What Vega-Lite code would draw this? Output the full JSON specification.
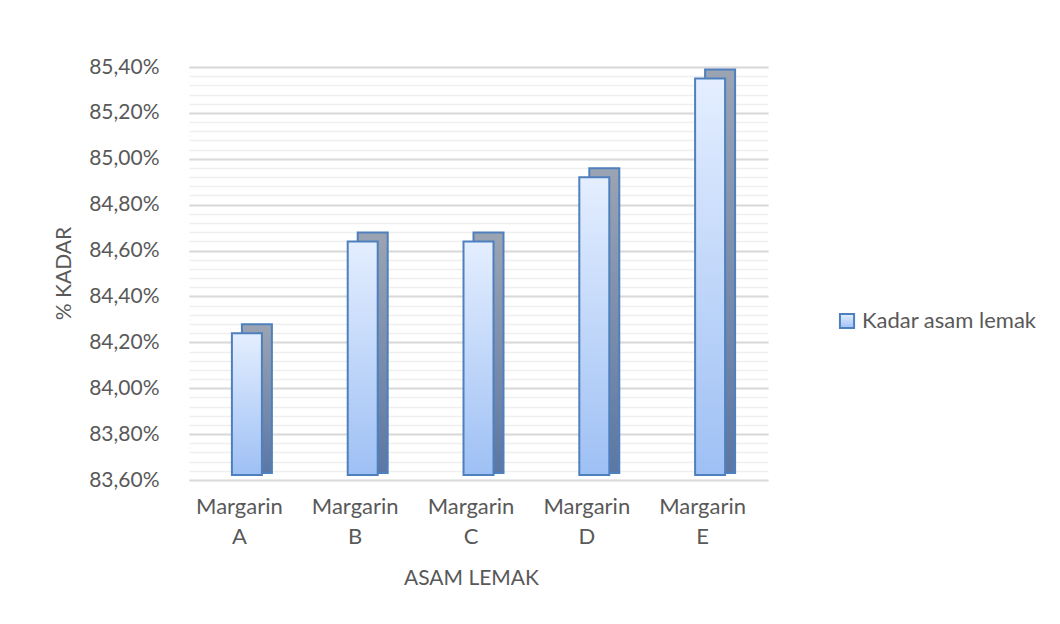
{
  "$schema": "https://vega.github.io/schema/vega-lite/v6.json",
  "autosize": {"type": "none"},
  "width": 579,
  "height": 413,
  "padding": {"left": 189, "top": 67, "right": 292, "bottom": 144},
  "background": "#ffffff",
  "config": {
    "font": "Lato",
    "view": {"stroke": null},
    "axis": {"labelFont": "Lato", "titleFont": "Lato", "labelColor": "#595959", "titleColor": "#595959", "labelFontSize": 21, "titleFontSize": 21, "titleFontWeight": "normal"}
  },
  "data": {
    "values": [
      {"margarin": "Margarin A", "kadar": 84.24, "seri": "Kadar asam lemak"},
      {"margarin": "Margarin B", "kadar": 84.64, "seri": "Kadar asam lemak"},
      {"margarin": "Margarin C", "kadar": 84.64, "seri": "Kadar asam lemak"},
      {"margarin": "Margarin D", "kadar": 84.92, "seri": "Kadar asam lemak"},
      {"margarin": "Margarin E", "kadar": 85.35, "seri": "Kadar asam lemak"}
    ]
  },
  "encoding": {
    "x": {
      "field": "margarin", "type": "nominal", "sort": null,
      "scale": {"paddingInner": 0.741, "paddingOuter": 0.3705},
      "axis": {
        "title": "ASAM LEMAK", "labelAngle": 0, "labelExpr": "split(datum.label, ' ')",
        "labelFontSize": 22,
        "labelLineHeight": 30, "labelPadding": 16, "labelOffset": -7.5, "labelBaseline": "top",
        "domain": false, "ticks": false, "grid": false,
        "titleX": 282, "titleY": 98, "titleBaseline": "middle", "titleAnchor": null
      }
    }
  },
  "layer": [
    {
      "mark": {
        "type": "bar", "xOffset": 10, "yOffset": -9, "y2Offset": -7,
        "stroke": "#4e80bd", "strokeWidth": 2,
        "fill": {"gradient": "linear", "x1": 0, "y1": 0, "x2": 0, "y2": 1, "stops": [{"offset": 0, "color": "#9ba4b3"}, {"offset": 1, "color": "#5c77a4"}]}
      },
      "encoding": {
        "y": {
          "field": "kadar", "type": "quantitative",
          "scale": {"domain": [83.6, 85.4], "zero": false, "nice": false},
          "axis": {
            "orient": "right", "title": null, "labels": false, "ticks": false, "domain": false,
            "grid": true, "gridColor": "#efefef", "gridWidth": 1.5,
            "values": [83.6, 83.64, 83.68, 83.72, 83.76, 83.8, 83.84, 83.88, 83.92, 83.96, 84.0, 84.04, 84.08, 84.12, 84.16, 84.2, 84.24, 84.28, 84.32, 84.36, 84.4, 84.44, 84.48, 84.52, 84.56, 84.6, 84.64, 84.68, 84.72, 84.76, 84.8, 84.84, 84.88, 84.92, 84.96, 85.0, 85.04, 85.08, 85.12, 85.16, 85.2, 85.24, 85.28, 85.32, 85.36, 85.4]
          }
        },
        "y2": {"datum": 83.6}
      }
    },
    {
      "mark": {
        "type": "bar", "strokeWidth": 2, "y2Offset": -5,
        "fill": {"gradient": "linear", "x1": 0, "y1": 0, "x2": 0, "y2": 1, "stops": [{"offset": 0, "color": "#e4eeff"}, {"offset": 1, "color": "#9ec0f4"}]}
      },
      "encoding": {
        "y": {
          "field": "kadar", "type": "quantitative",
          "scale": {"domain": [83.6, 85.4], "zero": false, "nice": false},
          "axis": {
            "orient": "left", "title": "% KADAR",
            "values": [83.6, 83.8, 84.0, 84.2, 84.4, 84.6, 84.8, 85.0, 85.2, 85.4],
            "labelExpr": "replace(format(datum.value, '.2f'), '.', ',') + '%'",
            "labelPadding": 30, "ticks": false, "domain": false,
            "grid": true, "gridColor": "#d9d9d9", "gridWidth": 2,
            "titleX": -124.5, "titleY": 206, "titleAngle": 270, "titleAlign": "center", "titleBaseline": "middle", "titleAnchor": null
          }
        },
        "y2": {"datum": 83.6},
        "stroke": {
          "field": "seri", "type": "nominal",
          "scale": {"range": ["#4e80bd"]},
          "legend": {
            "title": null, "orient": "none", "legendX": 647, "legendY": 243, "padding": 0,
            "symbolType": "square", "symbolSize": 200, "symbolStrokeWidth": 2,
            "labelFont": "Lato", "labelFontSize": 22, "labelColor": "#595959", "labelOffset": 4, "labelLimit": 400,
            "encode": {"symbols": {"update": {"fill": {"value": "#c3d8f6"}}}}
          }
        }
      }
    }
  ],
  "resolve": {"axis": {"y": "independent"}}
}
